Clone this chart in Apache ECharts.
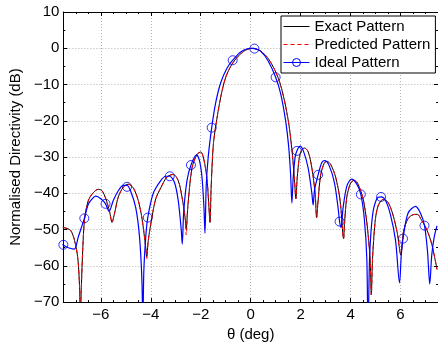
<!DOCTYPE html>
<html><head><meta charset="utf-8">
<script src="https://cdn.jsdelivr.net/npm/echarts@6/dist/echarts.min.js"></script>
<style>html,body{margin:0;padding:0;background:#fff}#c{width:438px;height:347px}</style>
</head><body><div id="c"></div>
<script>
// ---- data ----
const exactTheta = [-7.52,-7.35,-7.2,-7.05,-6.92,-6.85,-6.82,-6.78,-6.72,-6.65,-6.5,-6.3,-6.1,-5.95,-5.8,-5.65,-5.55,-5.45,-5.3,-5.1,-4.9,-4.7,-4.5,-4.35,-4.2,-4.16,-4.1,-3.95,-3.8,-3.6,-3.35,-3.1,-2.9,-2.75,-2.62,-2.58,-2.52,-2.35,-2.15,-2.0,-1.88,-1.75,-1.67,-1.63,-1.58,-1.5,-1.4,-1.2,-1.0,-0.75,-0.5,-0.2,0.1,0.4,0.7,1.0,1.2,1.4,1.55,1.68,1.76,1.81,1.86,1.95,2.05,2.15,2.3,2.45,2.58,2.64,2.7,2.8,2.95,3.06,3.2,3.4,3.58,3.7,3.72,3.76,3.85,4.0,4.15,4.3,4.5,4.65,4.78,4.83,4.88,4.98,5.1,5.3,5.5,5.7,5.87,6.01,6.12,6.3,6.5,6.67,6.85,7.05,7.25,7.46];
const exactDb = [-49.4,-49.7,-50.3,-53,-58,-66,-75,-66,-55,-47.2,-42,-39.8,-38.9,-39.3,-41.5,-45,-48,-45.5,-41,-38.3,-37.5,-38.5,-42,-47,-55,-57.5,-53,-46.5,-41.5,-38.5,-35.5,-34.8,-36.5,-41,-47,-50,-44,-33,-29.3,-28.6,-30.5,-36,-44,-48,-38,-27,-21.5,-13.5,-8,-4.4,-2.2,-0.5,0,-0.8,-2.8,-6.5,-10.2,-16,-22,-30,-37,-41.5,-36,-30,-28,-27.5,-28.5,-33,-40,-46.7,-42,-35,-31.6,-31.2,-32,-35.5,-42,-52,-52.5,-48,-41,-37.2,-36.4,-37.5,-41.5,-48,-58,-68,-58,-48,-43.5,-41.7,-42.5,-46,-51,-57,-50.5,-47,-45.9,-45.8,-47.5,-50,-54,-61];
const predDb = [-49.4,-49.7,-50.3,-53,-58,-66,-75,-66,-55,-47.2,-42,-39.8,-38.9,-39.3,-41.5,-45,-48,-45.5,-41,-38.3,-37.5,-38.5,-42,-47,-55,-58,-53,-46.5,-41.5,-38.5,-35.5,-34.8,-36.5,-41,-47,-51.5,-44,-33,-29.3,-28.6,-30.5,-36,-44,-48,-38,-27,-21.5,-13.5,-8,-4.4,-2.2,-0.5,0,-0.8,-2.8,-6.5,-10.2,-16,-22,-30,-37,-41.5,-36,-30,-28,-27.5,-28.5,-33,-40,-46.7,-42,-35,-31.6,-31.2,-32,-35.5,-42,-52,-52.5,-48,-41,-37.2,-36.4,-37.5,-41.5,-48,-58,-68,-58,-48,-43.5,-41.7,-42.5,-46,-51,-57,-50.5,-47,-45.9,-45.8,-47.5,-50,-54,-61];
const idealTheta = [-7.54,-7.3,-7.06,-6.9,-6.66,-6.5,-6.3,-6.2,-6.0,-5.81,-5.67,-5.5,-5.3,-5.1,-4.95,-4.8,-4.6,-4.45,-4.35,-4.32,-4.28,-4.2,-4.12,-3.9,-3.6,-3.4,-3.24,-3.05,-2.9,-2.78,-2.74,-2.68,-2.55,-2.39,-2.17,-2.05,-1.95,-1.87,-1.83,-1.78,-1.7,-1.56,-1.4,-1.2,-0.95,-0.72,-0.4,0.0,0.15,0.4,0.7,1.0,1.2,1.4,1.52,1.6,1.65,1.7,1.78,1.85,1.98,2.12,2.3,2.45,2.5,2.56,2.7,2.85,2.97,3.15,3.35,3.5,3.56,3.62,3.7,3.85,4.04,4.25,4.41,4.55,4.65,4.7,4.76,4.88,5.05,5.22,5.4,5.6,5.8,5.96,6.03,6.1,6.3,6.6,6.8,6.96,7.08,7.17,7.25,7.35,7.46];
const idealDb = [-54.1,-55,-55.4,-52,-46.9,-43,-41.2,-40.8,-41.5,-42.9,-45,-42,-39.3,-37.8,-37.8,-39.5,-44,-52,-65,-80,-62,-52,-46.7,-40,-36.5,-35.3,-35.3,-37,-42,-50,-54,-45,-36.5,-32.2,-29.4,-31,-35.5,-44,-51,-38,-30,-21.9,-15,-9.5,-5.5,-3.3,-1,0,-0.1,-0.8,-3.5,-8,-12.5,-20,-27,-35,-42.7,-36,-30,-28.3,-27,-28.5,-33,-40,-43.2,-39,-34.9,-31.5,-31,-32.5,-37,-44,-47.8,-49.4,-44,-38,-36.1,-37.5,-40.3,-47,-58,-80,-58,-46,-41.5,-41,-42,-46,-53,-64.7,-57,-52.5,-45.5,-43.6,-45.5,-48.9,-56,-65,-57,-52,-49];
const markerTheta = [-7.5,-6.66,-5.81,-4.95,-4.12,-3.24,-2.39,-1.56,-0.72,0.15,1.0,1.85,2.7,3.56,4.41,5.22,6.1,6.96];
const markerDb = [-54.2,-46.9,-42.9,-38.2,-46.7,-35.3,-32.2,-21.9,-3.3,-0.1,-8,-28.3,-34.9,-47.8,-40.3,-41,-52.5,-48.9];
const xTickValues = [-6,-4,-2,0,2,4,6];
const xTickLabels = ['\u22126','\u22124','\u22122','0','2','4','6'];
const yTickValues = [10,0,-10,-20,-30,-40,-50,-60,-70];
const yTickLabels = ['10','0','\u221210','\u221220','\u221230','\u221240','\u221250','\u221260','\u221270'];
const seriesNames = ['Exact Pattern','Predicted Pattern','Ideal Pattern'];
// ---------------------------------------
const FONT = "'Liberation Sans', Arial, sans-serif";
const FS = 15;
const zip = (a,b) => a.map((v,i)=>[v,b[i]]);
const xFmt = v => { const i = xTickValues.indexOf(Math.round(v*1000)/1000); return i<0 ? '' : xTickLabels[i]; };
const yFmt = v => { const i = yTickValues.indexOf(Math.round(v*1000)/1000); return i<0 ? '' : yTickLabels[i]; };
function xAx(pos, major, labels){
  const a = {type:'value', position:pos, min:-7.5, max:7.5,
    axisLine:{onZero:false, lineStyle:{color:'#000', width:1}},
    axisTick:{show:true, inside:true, length: major?4:2, lineStyle:{color:'#000', width:1}},
    axisLabel:{show:labels, showMinLabel:false, showMaxLabel:false, formatter:xFmt, color:'#000', fontSize:FS, fontFamily:FONT, margin:5},
    splitLine:{show: major && labels, lineStyle:{color:'#b4b4b4', width:1, type:[1,2]}}};
  if (major){ a.minInterval = 2; a.maxInterval = 2; a.splitNumber = 7; } else { a.interval = 0.5; }
  if (labels){ a.name='\u03b8 (deg)'; a.nameLocation='middle'; a.nameGap=20; a.nameTextStyle={color:'#000', fontSize:FS, fontFamily:FONT}; }
  return a;
}
function yAx(pos, labels){
  const a = {type:'value', position:pos, min:-70, max:10, interval:10,
    axisLine:{onZero:false, lineStyle:{color:'#000', width:1}},
    axisTick:{show:true, inside:true, length:4, lineStyle:{color:'#000', width:1}},
    minorTick:{show:true, splitNumber:2, length:2, lineStyle:{color:'#000', width:1}},
    axisLabel:{show:labels, formatter:yFmt, color:'#000', fontSize:FS, fontFamily:FONT, margin:4},
    splitLine:{show: labels, lineStyle:{color:'#b4b4b4', width:1, type:[1,2]}}};
  if (labels){ a.name='Normalised Directivity (dB)'; a.nameLocation='middle'; a.nameGap=35; a.nameTextStyle={color:'#000', fontSize:FS, fontFamily:FONT}; }
  return a;
}
const chart = echarts.init(document.getElementById('c'), null, {renderer:'canvas'});
chart.setOption({
  animation:false,
  backgroundColor:'#fff',
  grid:{left:58, right:0, top:12, bottom:34, containLabel:false},
  xAxis:[xAx('bottom',true,true), xAx('bottom',false,false), xAx('top',true,false), xAx('top',false,false)],
  yAxis:[yAx('left',true), yAx('right',false)],
  legend:{orient:'vertical', left:281, top:16, itemWidth:26, itemHeight:10, itemGap:3, padding:[3,5,3,2],
    backgroundColor:'#fff', borderColor:'#000', borderWidth:1, borderRadius:0, selectedMode:false,
    textStyle:{color:'#000', fontSize:FS, fontFamily:FONT},
    lineStyle:{width:1},
    data:[
      {name:seriesNames[0], itemStyle:{opacity:0}},
      {name:seriesNames[1], itemStyle:{opacity:0}},
      {name:seriesNames[2], itemStyle:{color:'rgba(0,0,0,0)', borderColor:'#0000ff', borderWidth:1}}
    ]},
  series:[
    {name:seriesNames[0], type:'line', data:zip(exactTheta, exactDb), symbol:'none', smooth:0.3, lineStyle:{color:'#000', width:1}, itemStyle:{color:'#000'}, clip:true},
    {name:seriesNames[1], type:'line', data:zip(exactTheta, predDb), symbol:'none', smooth:0.3, lineStyle:{color:'#ff0000', width:1, type:[4,3]}, itemStyle:{color:'#ff0000'}, clip:true},
    {name:seriesNames[2], type:'line', data:zip(idealTheta, idealDb), symbol:'circle', showSymbol:false, smooth:0.3, lineStyle:{color:'#0000ff', width:1.2}, itemStyle:{color:'#0000ff'}, clip:true},
    {name:seriesNames[2], type:'scatter', data:zip(markerTheta, markerDb), symbol:'circle', symbolSize:9, itemStyle:{color:'rgba(0,0,0,0)', borderColor:'#0000ff', borderWidth:1}, clip:false}
  ]
});
</script></body></html>
